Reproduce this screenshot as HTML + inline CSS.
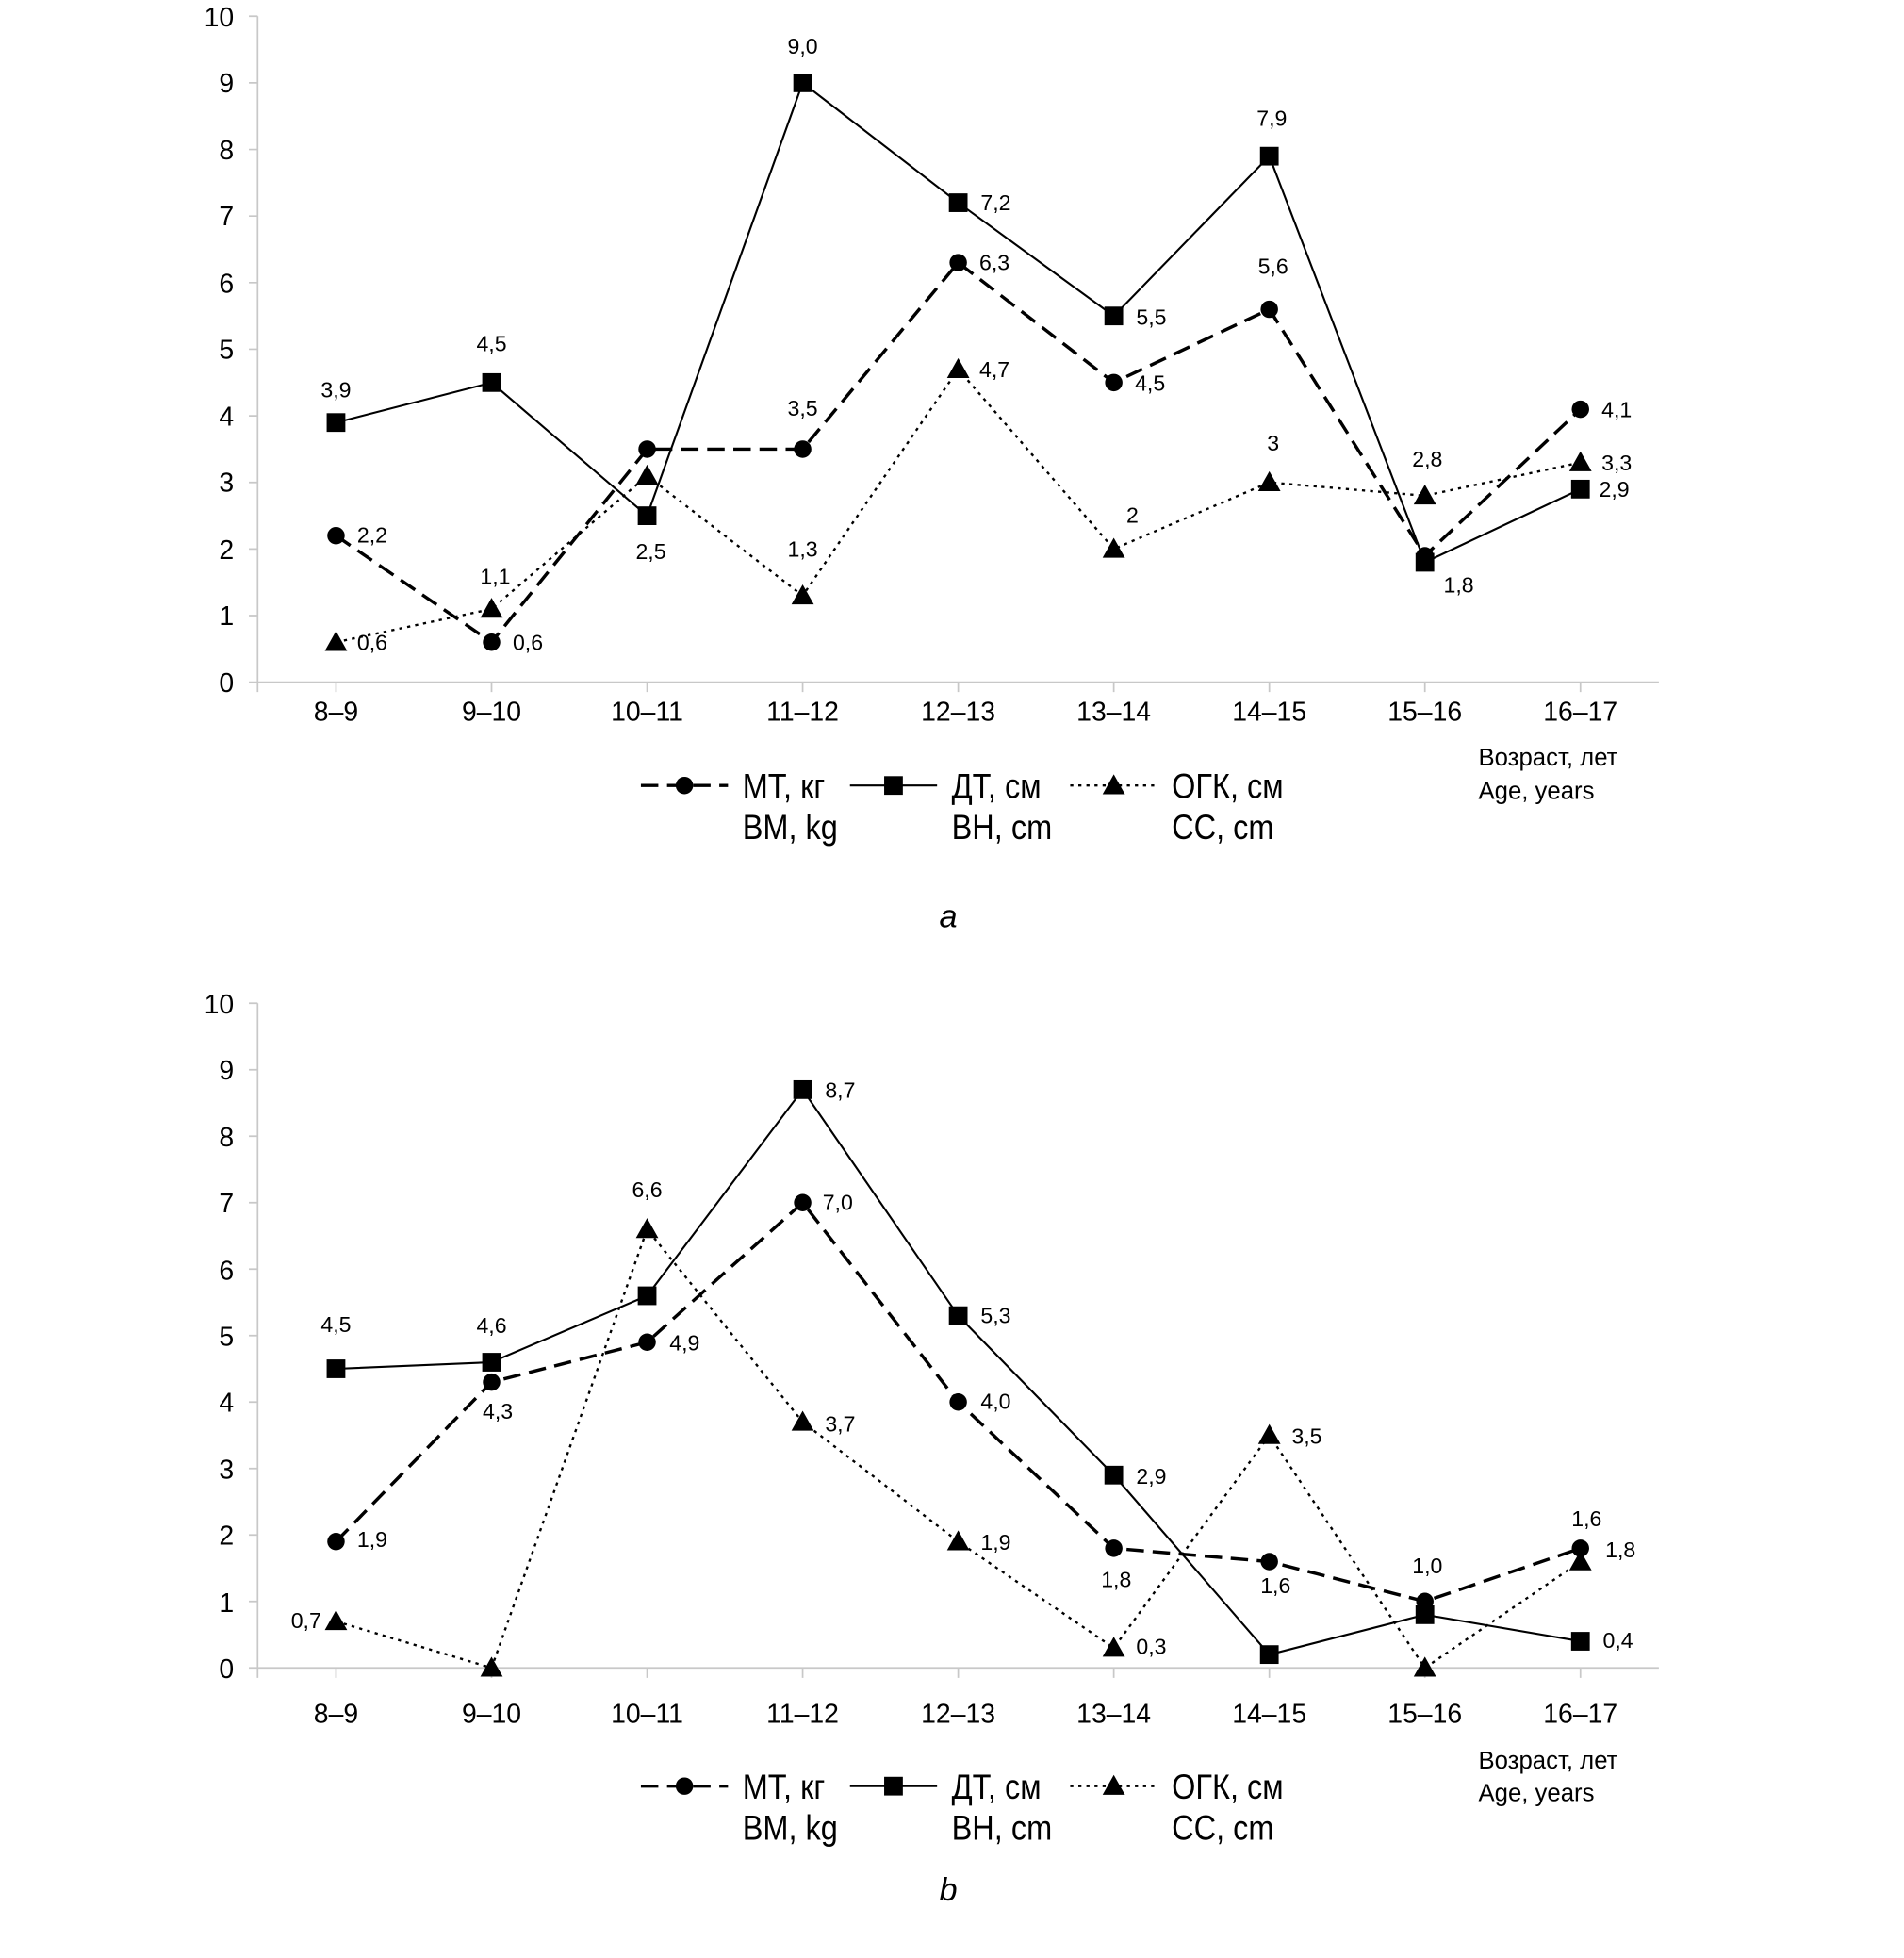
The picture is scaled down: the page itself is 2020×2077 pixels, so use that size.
<!DOCTYPE html>
<html><head><meta charset="utf-8"><style>
html,body{margin:0;padding:0;background:#fff;}
svg{display:block;}
text{font-family:"Liberation Sans",sans-serif;fill:#000;}
.t{font-size:21.5px;}
.d{font-size:17.5px;}
.lg{font-size:28px;}
.ag{font-size:19.5px;}
.ax{stroke:#c8c8c8;stroke-width:1.3;fill:none;}
.dt{stroke:#000;stroke-width:1.6;fill:none;}
.mt{stroke:#000;stroke-width:2.6;fill:none;stroke-dasharray:14 7;}
.og{stroke:#000;stroke-width:1.8;fill:none;stroke-dasharray:2.5 4;}
</style></head><body>
<svg width="2020" height="2077" viewBox="0 0 1530 1573" xmlns="http://www.w3.org/2000/svg">
<defs>
<circle id="c" r="7" fill="#000"/>
<rect id="s" x="-7.5" y="-7.5" width="15" height="15" fill="#000"/>
<polygon id="tr" points="0,-9 9,7 -9,7" fill="#000"/>
</defs>

<!-- ================= Chart a ================= -->
<g>
<path class="ax" d="M207,13 V548 H1333"/>
<path class="ax" d="M200,13H207M200,66.5H207M200,120H207M200,173.5H207M200,227H207M200,280.5H207M200,334H207M200,387.5H207M200,441H207M200,494.5H207M200,548H207"/>
<path class="ax" d="M207,548v8M270,548v8M395,548v8M520,548v8M645,548v8M770,548v8M895,548v8M1020,548v8M1145,548v8M1270,548v8"/>
<g class="t" text-anchor="end">
<text x="188" y="21">10</text><text x="188" y="74">9</text><text x="188" y="128">8</text><text x="188" y="181">7</text><text x="188" y="235">6</text><text x="188" y="288">5</text><text x="188" y="342">4</text><text x="188" y="395">3</text><text x="188" y="449">2</text><text x="188" y="502">1</text><text x="188" y="556">0</text>
</g>
<g class="t" text-anchor="middle">
<text x="270" y="579">8–9</text><text x="395" y="579">9–10</text><text x="520" y="579">10–11</text><text x="645" y="579">11–12</text><text x="770" y="579">12–13</text><text x="895" y="579">13–14</text><text x="1020" y="579">14–15</text><text x="1145" y="579">15–16</text><text x="1270" y="579">16–17</text>
</g>
<polyline class="dt" points="270,339.4 395,307.3 520,414.3 645,66.5 770,162.8 895,253.8 1020,125.4 1145,451.7 1270,392.9"/>
<polyline class="mt" points="270,430.3 395,515.9 520,360.8 645,360.8 770,210.9 895,307.3 1020,248.4 1145,446.4 1270,328.7"/>
<polyline class="og" points="270,515.9 395,489.2 520,382.2 645,478.5 770,296.6 895,441 1020,387.5 1145,398.2 1270,371.5"/>
<use href="#s" x="270" y="339.4"/><use href="#s" x="395" y="307.3"/><use href="#s" x="520" y="414.3"/><use href="#s" x="645" y="66.5"/><use href="#s" x="770" y="162.8"/><use href="#s" x="895" y="253.8"/><use href="#s" x="1020" y="125.4"/><use href="#s" x="1145" y="451.7"/><use href="#s" x="1270" y="392.9"/>
<use href="#c" x="270" y="430.3"/><use href="#c" x="395" y="515.9"/><use href="#c" x="520" y="360.8"/><use href="#c" x="645" y="360.8"/><use href="#c" x="770" y="210.9"/><use href="#c" x="895" y="307.3"/><use href="#c" x="1020" y="248.4"/><use href="#c" x="1145" y="446.4"/><use href="#c" x="1270" y="328.7"/>
<use href="#tr" x="270" y="515.9"/><use href="#tr" x="395" y="489.2"/><use href="#tr" x="520" y="382.2"/><use href="#tr" x="645" y="478.5"/><use href="#tr" x="770" y="296.6"/><use href="#tr" x="895" y="441"/><use href="#tr" x="1020" y="387.5"/><use href="#tr" x="1145" y="398.2"/><use href="#tr" x="1270" y="371.5"/>
<g class="d" text-anchor="middle">
<text x="270" y="319">3,9</text><text x="395" y="282">4,5</text><text x="523" y="449">2,5</text><text x="645" y="43">9,0</text><text x="1022" y="101">7,9</text>
<text x="645" y="334">3,5</text><text x="1023" y="220">5,6</text>
<text x="398" y="469">1,1</text><text x="645" y="447">1,3</text><text x="910" y="420">2</text><text x="1023" y="362">3</text><text x="1147" y="375">2,8</text>
</g>
<g class="d">
<text x="788" y="169">7,2</text><text x="913" y="261">5,5</text><text x="1160" y="476">1,8</text><text x="1285" y="399">2,9</text>
<text x="287" y="436">2,2</text><text x="412" y="522">0,6</text><text x="787" y="217">6,3</text><text x="912" y="314">4,5</text><text x="1287" y="335">4,1</text>
<text x="287" y="522">0,6</text><text x="787" y="303">4,7</text><text x="1287" y="378">3,3</text>
</g>
<path class="mt" d="M515,631H585" stroke-dasharray="12 8"/><use href="#c" x="550" y="631"/>
<path class="dt" d="M683,631H753"/><use href="#s" x="718" y="631"/>
<path class="og" d="M860,631H930"/><use href="#tr" x="895" y="631"/>
<g class="lg" transform="scale(0.88,1)">
<text x="678" y="641">МТ, кг</text><text x="678" y="674">ВМ, kg</text>
<text x="869" y="641">ДТ, см</text><text x="869" y="674">ВН, cm</text>
<text x="1070" y="641">ОГК, см</text><text x="1070" y="674">СС, cm</text>
</g>
<g class="ag"><text x="1188" y="615">Возраст, лет</text><text x="1188" y="642">Age, years</text></g>
<text x="762" y="745" text-anchor="middle" font-size="26" font-style="italic">a</text>
</g>

<!-- ================= Chart b ================= -->
<g>
<path class="ax" d="M207,806 V1340 H1333"/>
<path class="ax" d="M200,806H207M200,859.4H207M200,912.8H207M200,966.2H207M200,1019.6H207M200,1073H207M200,1126.4H207M200,1179.8H207M200,1233.2H207M200,1286.6H207M200,1340H207"/>
<path class="ax" d="M207,1340v8M270,1340v8M395,1340v8M520,1340v8M645,1340v8M770,1340v8M895,1340v8M1020,1340v8M1145,1340v8M1270,1340v8"/>
<g class="t" text-anchor="end">
<text x="188" y="814">10</text><text x="188" y="867">9</text><text x="188" y="921">8</text><text x="188" y="974">7</text><text x="188" y="1028">6</text><text x="188" y="1081">5</text><text x="188" y="1134">4</text><text x="188" y="1188">3</text><text x="188" y="1241">2</text><text x="188" y="1295">1</text><text x="188" y="1348">0</text>
</g>
<g class="t" text-anchor="middle">
<text x="270" y="1384">8–9</text><text x="395" y="1384">9–10</text><text x="520" y="1384">10–11</text><text x="645" y="1384">11–12</text><text x="770" y="1384">12–13</text><text x="895" y="1384">13–14</text><text x="1020" y="1384">14–15</text><text x="1145" y="1384">15–16</text><text x="1270" y="1384">16–17</text>
</g>
<polyline class="dt" points="270,1099.7 395,1094.4 520,1041 645,875.4 770,1057 895,1185.1 1020,1329.3 1145,1297.3 1270,1318.6"/>
<polyline class="mt" points="270,1238.5 395,1110.4 520,1078.3 645,966.2 770,1126.4 895,1243.9 1020,1254.6 1145,1286.6 1270,1243.9"/>
<polyline class="og" points="270,1302.6 395,1340 520,987.6 645,1142.4 770,1238.5 895,1324 1020,1153.1 1145,1340 1270,1254.6"/>
<use href="#s" x="270" y="1099.7"/><use href="#s" x="395" y="1094.4"/><use href="#s" x="520" y="1041"/><use href="#s" x="645" y="875.4"/><use href="#s" x="770" y="1057"/><use href="#s" x="895" y="1185.1"/><use href="#s" x="1020" y="1329.3"/><use href="#s" x="1145" y="1297.3"/><use href="#s" x="1270" y="1318.6"/>
<use href="#c" x="270" y="1238.5"/><use href="#c" x="395" y="1110.4"/><use href="#c" x="520" y="1078.3"/><use href="#c" x="645" y="966.2"/><use href="#c" x="770" y="1126.4"/><use href="#c" x="895" y="1243.9"/><use href="#c" x="1020" y="1254.6"/><use href="#c" x="1145" y="1286.6"/><use href="#c" x="1270" y="1243.9"/>
<use href="#tr" x="270" y="1302.6"/><use href="#tr" x="395" y="1340"/><use href="#tr" x="520" y="987.6"/><use href="#tr" x="645" y="1142.4"/><use href="#tr" x="770" y="1238.5"/><use href="#tr" x="895" y="1324"/><use href="#tr" x="1020" y="1153.1"/><use href="#tr" x="1145" y="1340"/><use href="#tr" x="1270" y="1254.6"/>
<g class="d" text-anchor="middle">
<text x="270" y="1070">4,5</text><text x="395" y="1071">4,6</text>
<text x="400" y="1140">4,3</text><text x="897" y="1275">1,8</text><text x="1025" y="1280">1,6</text><text x="1147" y="1264">1,0</text><text x="1275" y="1226">1,6</text>
<text x="246" y="1308">0,7</text><text x="520" y="962">6,6</text>
</g>
<g class="d">
<text x="663" y="882">8,7</text><text x="788" y="1063">5,3</text><text x="913" y="1192">2,9</text><text x="1288" y="1324">0,4</text>
<text x="287" y="1243">1,9</text><text x="538" y="1085">4,9</text><text x="661" y="972">7,0</text><text x="788" y="1132">4,0</text><text x="1290" y="1251">1,8</text>
<text x="663" y="1150">3,7</text><text x="788" y="1245">1,9</text><text x="913" y="1329">0,3</text><text x="1038" y="1160">3,5</text>
</g>
<path class="mt" d="M515,1435H585" stroke-dasharray="12 8"/><use href="#c" x="550" y="1435"/>
<path class="dt" d="M683,1435H753"/><use href="#s" x="718" y="1435"/>
<path class="og" d="M860,1435H930"/><use href="#tr" x="895" y="1435"/>
<g class="lg" transform="scale(0.88,1)">
<text x="678" y="1445">МТ, кг</text><text x="678" y="1478">ВМ, kg</text>
<text x="869" y="1445">ДТ, см</text><text x="869" y="1478">ВН, cm</text>
<text x="1070" y="1445">ОГК, см</text><text x="1070" y="1478">СС, cm</text>
</g>
<g class="ag"><text x="1188" y="1421">Возраст, лет</text><text x="1188" y="1447">Age, years</text></g>
<text x="762" y="1527" text-anchor="middle" font-size="26" font-style="italic">b</text>
</g>
</svg>
</body></html>
